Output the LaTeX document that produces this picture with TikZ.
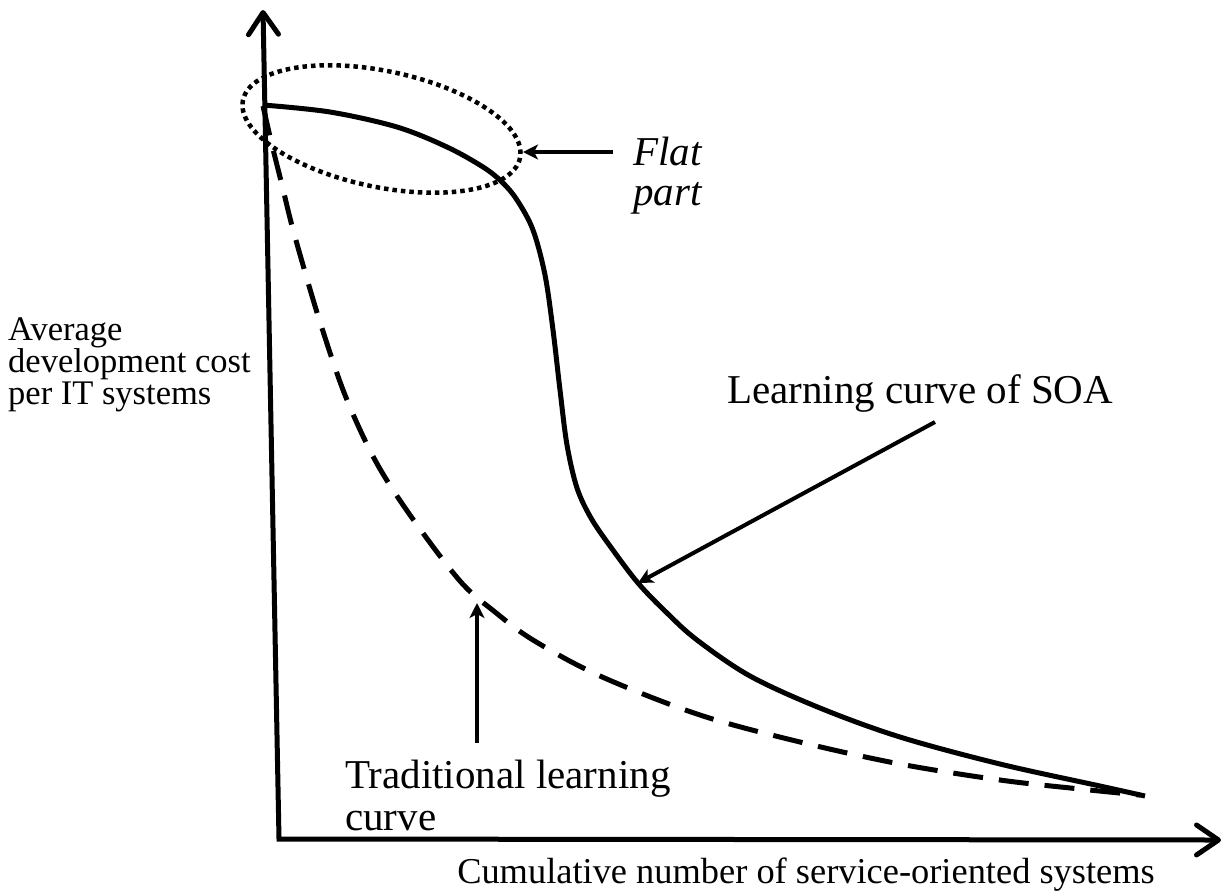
\documentclass[tikz,border=0pt]{standalone}
\usepackage{fontspec}
\setmainfont{Liberation Serif}
\usetikzlibrary{arrows.meta}
\begin{document}
\begin{tikzpicture}[x=1pt,y=-1pt,
  axis/.style={line width=5pt, line join=miter,
    {Straight Barb[length=22pt,width=30pt,round]}-{Straight Barb[length=22pt,width=30pt,round]}},
  soa/.style={line width=5pt, line cap=butt},
  trad/.style={line width=5pt, dash pattern=on 30pt off 16pt},
  dots/.style={line width=4.5pt, dash pattern=on 4.5pt off 4pt},
  pointer/.style={line width=4pt, -{Stealth[length=15pt,width=15pt,inset=4pt]}},
  lbl/.style={anchor=base west, inner sep=0pt, font=\fontsize{41}{42}\selectfont},
  ilbl/.style={lbl, font=\fontsize{41}{42}\selectfont\itshape},
  small/.style={anchor=base west, inner sep=0pt, font=\fontsize{34.5}{32}\selectfont},
  xlbl/.style={anchor=base, inner sep=0pt, font=\fontsize{36.4}{38}\selectfont},
]
\useasboundingbox (0,0) rectangle (1225,895);
\fill[white] (0,0) rectangle (1225,895);

% axes
\coordinate (O) at (279,839);
\coordinate (ytop) at (263,10);
\coordinate (xend) at (1221,840);
\draw[axis] (ytop) -- (O) -- (xend);

% SOA learning curve (solid)
\draw[soa] plot[smooth, tension=0.55] coordinates {(263,105) (330,112) (397,127) (447,147) (483,167) (502,182) (517,200) (533,230) (545,275) (553,330) (560,390) (567,445) (577,488) (591,518) (610,546) (638,583) (667,613) (697,640) (750,676) (820,708) (900,737) (1000,764) (1100,786) (1145,796)};

% traditional learning curve (dashed)
\draw[trad] plot[smooth, tension=0.55] coordinates {(263,106) (272,145) (282,185) (291,222) (303,265) (320,322) (345,395) (375,460) (410,515) (460,581) (495,612) (533,640) (600,676) (700,715) (800,742) (900,764) (1000,780) (1080,789) (1140,795)};

% flat part ellipse
\draw[dots, rotate around={-11.8:(381.5,129)}] (381.5,129) ellipse [x radius=141.5, y radius=58];

% labels
\node[small] (avg1) at (8,340) {Average};
\node[small] (avg2) at (8,372) {development cost};
\node[small] (avg3) at (8,404) {per IT systems};

\node[ilbl] (flat1) at (633,165) {Flat};
\node[ilbl] (flat2) at (633,205) {part};

\node[lbl] (soalbl) at (727,403) {Learning curve of SOA};

\node[lbl] (trad1) at (345,788) {Traditional learning};
\node[lbl] (trad2) at (345,830) {curve};

\node[xlbl] (xlabel) at (806,883) {Cumulative number of service-oriented systems};

% pointers
\coordinate (flatfrom) at (613,152);
\coordinate (flatto) at (523,152);
\draw[pointer] (flatfrom) -- (flatto);

\coordinate (soafrom) at (935,422);
\coordinate (soato) at (638,583);
\draw[pointer] (soafrom) -- (soato);

\coordinate (tradfrom) at (477,743);
\coordinate (tradto) at (477,603);
\draw[pointer] (tradfrom) -- (tradto);
\end{tikzpicture}
\end{document}
